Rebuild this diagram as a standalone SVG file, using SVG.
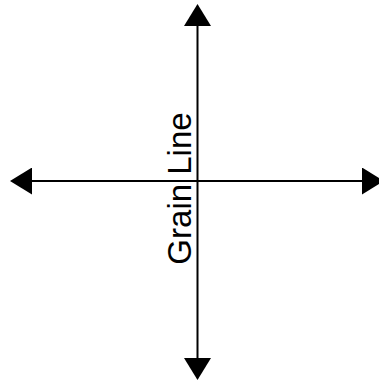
<svg xmlns="http://www.w3.org/2000/svg" width="379" height="383" viewBox="0 0 379 383">
  <style>
    .axis { stroke: #000; stroke-width: 2; fill: none; marker-start: url(#head); marker-end: url(#head); }
    .label { font-family: "Liberation Sans", Arial, sans-serif; font-size: 33px; fill: #000; }
  </style>
  <defs>
    <marker id="head" viewBox="0 0 22 27" markerWidth="22" markerHeight="27" refX="0" refY="13.5" markerUnits="userSpaceOnUse" orient="auto-start-reverse">
      <path d="M0,0 L22,13.5 L0,27 Z" fill="#000"/>
    </marker>
  </defs>
  <rect width="379" height="383" fill="#fff"/>
  <g id="connectors">
    <line class="axis" x1="197.5" y1="26" x2="197.5" y2="358"/>
    <line class="axis" x1="32" y1="181" x2="362" y2="181"/>
  </g>
  <g id="grain-line-label">
    <text class="label" transform="translate(190.5,188.5) rotate(-90)" text-anchor="middle">Grain Line</text>
  </g>
</svg>
